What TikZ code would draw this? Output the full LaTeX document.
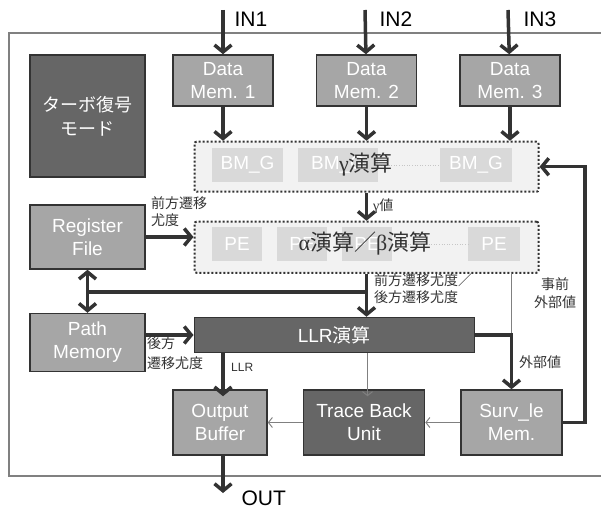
\documentclass[tikz,border=0pt]{standalone}
\usepackage{fontspec}
\setmainfont{Liberation Sans}
\newfontfamily\jp{Noto Sans CJK JP}
\newfontfamily\grk{Liberation Serif}
\usetikzlibrary{positioning,arrows.meta}

\definecolor{darkfill}{HTML}{666666}
\definecolor{midfill}{HTML}{A6A6A6}
\definecolor{edgecol}{HTML}{333333}
\definecolor{cellfill}{HTML}{D9D9D9}
\definecolor{unitfill}{HTML}{F2F2F2}
\definecolor{thincol}{HTML}{808080}

\begin{document}
\begin{tikzpicture}[%
    x=1pt, y=1pt,
    membox/.style={%
        draw=edgecol,
        line width=1.5pt,
        fill=midfill,
        text=white,
        align=center,
        inner sep=2pt,
        font=\fontsize{19}{23}\selectfont
    },
    darkbox/.style={%
        membox,
        fill=darkfill
    },
    unit/.style={%
        draw=edgecol,
        line width=2pt,
        dotted,
        fill=unitfill,
        rounded corners=2pt,
        minimum width=344pt
    },
    cell/.style={%
        fill=cellfill,
        text=white,
        minimum height=34pt,
        inner sep=0pt,
        font=\fontsize{19}{23}\selectfont
    },
    note/.style={%
        text=edgecol,
        align=left,
        inner sep=0pt,
        font=\jp\fontsize{14}{17}\selectfont
    },
    flow/.style={%
        draw=edgecol,
        line width=3.5pt,
        -{Straight Barb[length=7pt,width=17pt]}
    },
    feed/.style={%
        draw=thincol,
        line width=1pt,
        -{Straight Barb[length=4pt,width=10pt]}
    }
]
\useasboundingbox (0,0) rectangle (601,-510);

% Frame
\draw[thincol, line width=1.5pt] (602,-33) -- (9,-33) -- (9,-476) -- (602,-476);

% Mode
\node[darkbox, minimum width=115pt, minimum height=122pt, font=\jp\fontsize{18}{24}\selectfont]
    (mode) at (87.5,-116) {ターボ復号\\モード};

% Data memories
\node[membox, minimum width=100pt, minimum height=51pt] (mem1) at (223,-80.5) {Data\\Mem. 1};
\node[membox, minimum width=100pt, minimum height=51pt, right=42pt of mem1] (mem2) {Data\\Mem. 2};
\node[membox, minimum width=100pt, minimum height=51pt, right=42pt of mem2] (mem3) {Data\\Mem. 3};

% Gamma unit
\node[unit, minimum height=50pt, below=34pt of mem2] (gamma) {};
\node[cell, minimum width=71pt] (bm1) at (247.5,-165) {BM\_G};
\node[cell, minimum width=80pt] (bm2) at (338,-165) {BM\_G};
\node[cell, minimum width=72pt] (bm3) at (476,-165) {BM\_G};
\draw[gray!45, dotted, line width=0.6pt] (bm2.east) -- (bm3.west);
\node[text=edgecol, font=\fontsize{22}{26}\selectfont] (gammalabel) at (366,-165) {{\grk γ}{\jp 演算}};

% Alpha/beta unit
\node[unit, minimum height=51pt, below=28pt of gamma] (alpha) {};
\node[cell, minimum width=50pt] (pe1) at (237,-244) {PE};
\node[cell, minimum width=50pt] (pe2) at (302,-244) {PE};
\node[cell, minimum width=50pt] (pe3) at (367,-244) {PE};
\node[cell, minimum width=52pt] (pe4) at (494,-244) {PE};
\draw[gray!45, dotted, line width=0.6pt] (pe3.east) -- (pe4.west);
\node[text=edgecol, font=\fontsize{22}{26}\selectfont] (alphalabel) at (365,-244) {{\grk α}{\jp 演算／}{\grk β}{\jp 演算}};

% Register file and path memory
\node[membox, minimum width=115pt, minimum height=64pt] (regfile) at (87.5,-237) {Register\\File};
\node[membox, minimum width=115pt, minimum height=58pt, below=43pt of regfile] (pathmem) {Path\\Memory};

% LLR
\node[darkbox, minimum width=280pt, minimum height=35pt, below=43pt of alpha.south west, anchor=north west]
    (llr) {LLR{\jp 演算}};

% Bottom row
\node[membox, minimum width=94pt, minimum height=65pt] (outbuf) at (220,-422.5) {Output\\Buffer};
\node[darkbox, minimum width=121pt, minimum height=65pt, right=35pt of outbuf] (trace) {Trace Back\\Unit};
\node[membox, minimum width=101pt, minimum height=65pt, right=35pt of trace] (surv) {Surv\_le\\Mem.};

% Inputs and output
\coordinate (src1) at (223,-10);
\coordinate (src2) at (365,-10);
\coordinate (src3) at (508,-10);
\coordinate (sink) at (223,-493);
\node[anchor=west, font=\fontsize{21}{25}\selectfont] (in1) at (231,-19) {IN1};
\node[anchor=west, font=\fontsize{21}{25}\selectfont] (in2) at (376,-19) {IN2};
\node[anchor=west, font=\fontsize{21}{25}\selectfont] (in3) at (520,-19) {IN3};
\node[anchor=west, font=\fontsize{21}{25}\selectfont] (out) at (238,-498) {OUT};

% Labels
\node[note, anchor=north west] (fwdlabel) at (151,-196) {前方遷移\\尤度};
\node[note, anchor=west, font=\fontsize{14}{17}\selectfont] (gvlabel) at (373,-206) {{\grk γ}{\jp 値}};
\node[note, anchor=north west] (bothlabel) at (374,-273) {前方遷移尤度／\\後方遷移尤度};
\node[note, anchor=north west, font=\jp\fontsize{14}{20}\selectfont] (bwdlabel) at (147,-336) {後方\\遷移尤度};
\node[note, font=\fontsize{12}{14}\selectfont, anchor=west] (llrlabel) at (231,-367) {LLR};
\node[note] (extlabel) at (540,-362) {外部値};
\node[note, align=center, font=\jp\fontsize{14}{18}\selectfont] (priorlabel) at (555,-293) {事前\\外部値};

% Joints
\coordinate (join) at (365,-292);
\coordinate (back) at (585,-422.5);

% Arrows
\draw[flow] (src1) -- (mem1);
\draw[flow] (src2) -- (mem2);
\draw[flow] (src3) -- (mem3);

\draw[flow] (mem1) -- (mem1 |- gamma.north);
\draw[flow] (mem2) -- (gamma);
\draw[flow] (mem3) -- (mem3 |- gamma.north);

\draw[flow] (gamma) -- (alpha);
\draw[flow] (regfile.east) -- (regfile.east -| alpha.west);
\draw[flow, {Straight Barb[length=7pt,width=17pt]}-{Straight Barb[length=7pt,width=17pt]}] (regfile) -- (pathmem);
\draw[draw=edgecol, line width=3.5pt] (regfile.south |- join) -- (join);
\draw[flow] (alpha.south) -- (llr.north -| alpha.south);
\draw[flow] (llr.west -| pathmem.east) -- (llr.west);

\draw[thincol, line width=1pt] (alpha.south -| surv.north) -- (llr.east -| surv.north);
\draw[flow] (llr.east) -- (llr.east -| surv.north) -- (surv.north);
\draw[flow] (llr.south -| outbuf.north) ++(3,0) -- ++(0,-43);
\draw[feed] (llr.south -| trace.north) ++(3.5,0) -- ++(0,-43);

\draw[feed] (surv) -- (trace);
\draw[feed] (trace) -- (outbuf);

\draw[flow] (surv.east) -- (back) -- (back |- gamma.east) -- (gamma.east);
\draw[flow] (outbuf.south) ++(3,0) -- (sink);

\end{tikzpicture}
\end{document}
